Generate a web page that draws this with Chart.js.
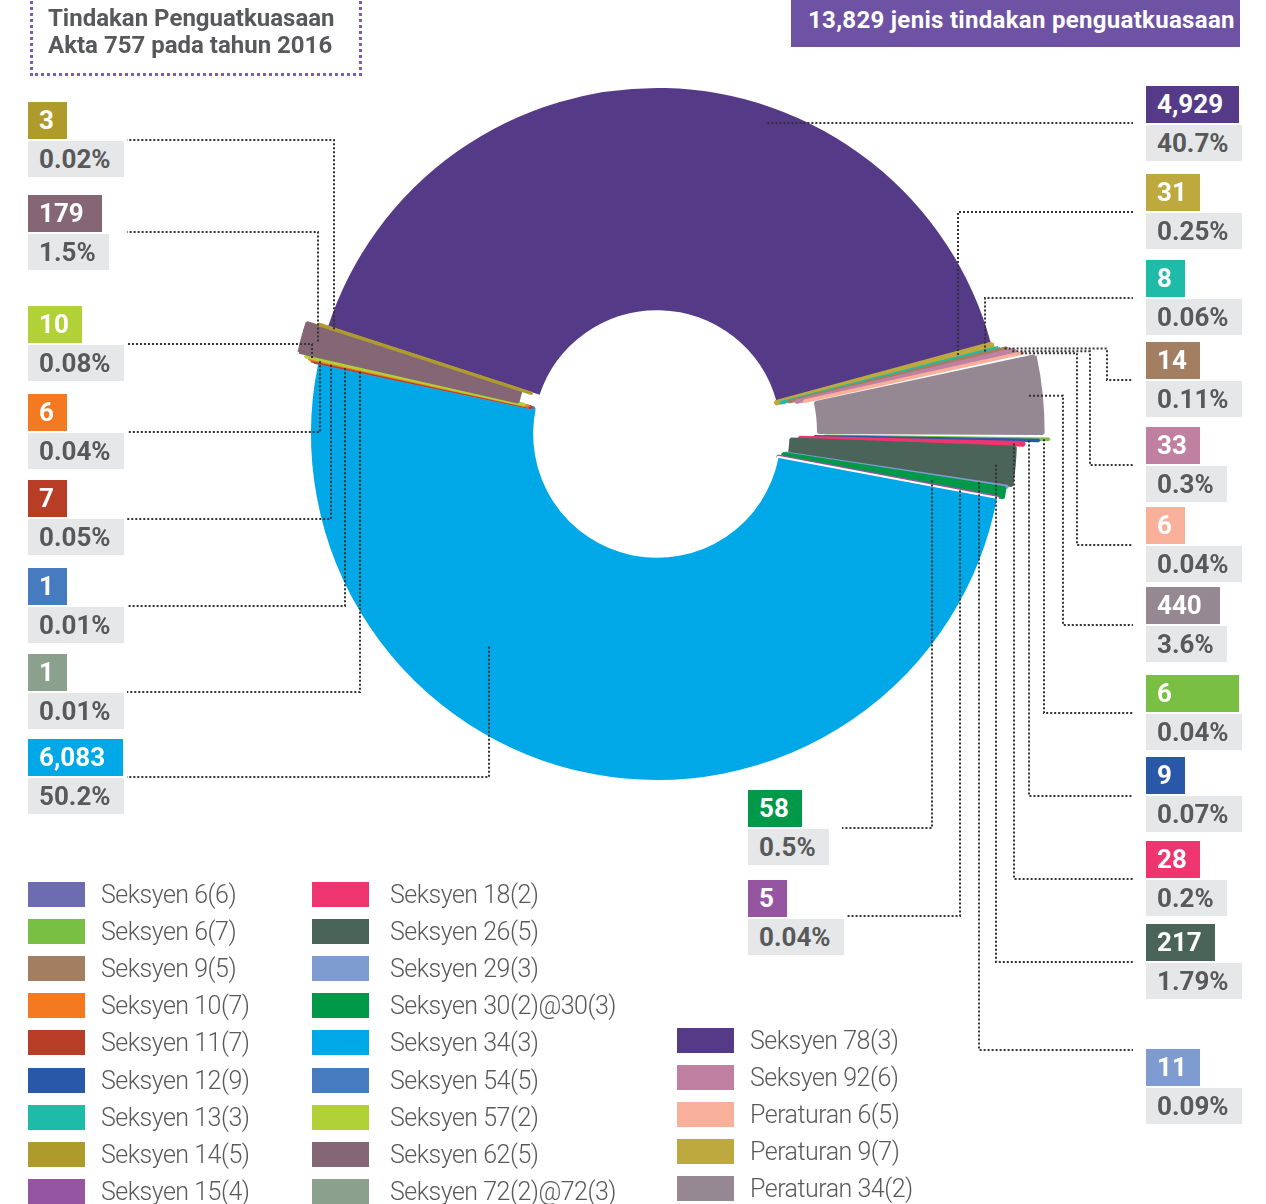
<!DOCTYPE html>
<html>
<head>
<meta charset="utf-8">
<title>Tindakan Penguatkuasaan Akta 757 pada tahun 2016</title>
<script src="https://cdn.jsdelivr.net/npm/chart.js@4.4.1/dist/chart.umd.min.js"></script>
<style>
  html, body { margin: 0; padding: 0; background: #fff; }
  body { position: relative; width: 1266px; height: 1204px; overflow: hidden; font-family: Roboto, "Open Sans", sans-serif; }
  #chartBox { position: absolute; left: 0; top: 0; width: 1266px; height: 1204px; }
  .title-box { position: absolute; left: 30px; top: -12px; width: 332px; height: 88px; border: 3px dotted #7a5cb2; box-sizing: border-box; }
  .title-text { position: absolute; left: 48px; top: 5px; font-weight: 700; font-size: 24px; line-height: 27px; color: #58595b; }
  .total { position: absolute; left: 791px; top: 0; width: 449px; height: 47px; background: #6e52a3; color: #fff;
           font-weight: 700; font-size: 24px; line-height: 40px; padding-left: 17px; box-sizing: border-box; letter-spacing: 0.3px; white-space: nowrap; }
  .callout { position: absolute; display: flex; flex-direction: column; align-items: flex-start; gap: 2px; }
  .callout div { height: 37px; line-height: 37px; font-size: 26px; font-weight: 700; padding: 0 13px 0 11px; box-sizing: border-box; white-space: nowrap; }
  .callout .val { color: #fff; }
  .callout .pct { background: #e6e7e8; color: #58595b; height: 36px; }
  .legend-item { position: absolute; display: flex; align-items: center; height: 25px; white-space: nowrap; }
  .legend-item .sw { width: 57px; height: 25px; flex: none; }
  .legend-item span { font-size: 25px; font-weight: 300; color: #58595b; letter-spacing: -0.5px; }
</style>
</head>
<body>
<div id="chartBox"><canvas id="pie"></canvas></div>
<div class="title-box"></div>
<div class="title-text">Tindakan Penguatkuasaan<br>Akta 757 pada tahun 2016</div>
<div class="total">13,829 jenis tindakan penguatkuasaan</div>
<script>
// slices in drawing order, clockwise from the upper left
const categories = ['Seksyen 78(3)', 'Peraturan 9(7)', 'Seksyen 13(3)', 'Seksyen 9(5)', 'Seksyen 92(6)', 'Peraturan 6(5)',
  'Peraturan 34(2)', 'Seksyen 6(7)', 'Seksyen 12(9)', 'Seksyen 18(2)', 'Seksyen 26(5)', 'Seksyen 29(3)',
  'Seksyen 30(2)@30(3)', 'Seksyen 15(4)', 'Seksyen 34(3)', 'Seksyen 72(2)@72(3)', 'Seksyen 54(5)', 'Seksyen 11(7)',
  'Seksyen 10(7)', 'Seksyen 57(2)', 'Seksyen 62(5)', 'Seksyen 14(5)', 'Seksyen 6(6)'];
const counts = [4929, 31, 8, 14, 33, 6, 440, 6, 9, 28, 217, 11, 58, 5, 6083, 1, 1, 7, 6, 10, 179, 3, 0];
const shares = ['40.7%', '0.25%', '0.06%', '0.11%', '0.3%', '0.04%', '3.6%', '0.04%', '0.07%', '0.2%', '1.79%', '0.09%',
  '0.5%', '0.04%', '50.2%', '0.01%', '0.01%', '0.05%', '0.04%', '0.08%', '1.5%', '0.02%', ''];
const sliceColors = ['#553a87', '#bda93e', '#1ebba8', '#a37e61', '#bf80a2', '#f9b09b', '#958893', '#79bf43', '#2a58a8',
  '#ee3570', '#4a6459', '#7e9cd0', '#009849', '#9655a1', '#00a8e7', '#8ba18e', '#467cbf', '#b83d27', '#f37a21',
  '#b1d136', '#856675', '#af9b2c', '#6e6cb1'];

const legendColumns = [
  ['Seksyen 6(6)', 'Seksyen 6(7)', 'Seksyen 9(5)', 'Seksyen 10(7)', 'Seksyen 11(7)', 'Seksyen 12(9)', 'Seksyen 13(3)', 'Seksyen 14(5)', 'Seksyen 15(4)'],
  ['Seksyen 18(2)', 'Seksyen 26(5)', 'Seksyen 29(3)', 'Seksyen 30(2)@30(3)', 'Seksyen 34(3)', 'Seksyen 54(5)', 'Seksyen 57(2)', 'Seksyen 62(5)', 'Seksyen 72(2)@72(3)'],
  ['Seksyen 78(3)', 'Seksyen 92(6)', 'Peraturan 6(5)', 'Peraturan 9(7)', 'Peraturan 34(2)']
];

// how far each small slice is pushed out of the ring
const sliceOffsets = [0, 0, 10, 26, 40, 56, 88, 90, 70, 40, 24, 14, 10, 0, 0, 6, 6, 12, 18, 26, 42, 18, 0];

// label boxes and the dotted leader that joins them to their slice
const callouts = [
  { slice: 21, x: 28,   top: 102,  lineY: 140,  endX: 127,  elbow: 334, route: 'v' },
  { slice: 20, x: 28,   top: 195,  lineY: 232,  endX: 127,  elbow: 318, route: 'v', minWidth: 74 },
  { slice: 19, x: 28,   top: 306,  lineY: 344,  endX: 127,  elbow: 312, route: 'v' },
  { slice: 18, x: 28,   top: 394,  lineY: 432,  endX: 127,  elbow: 320, route: 'v' },
  { slice: 17, x: 28,   top: 480,  lineY: 519,  endX: 127,  elbow: 331, route: 'v' },
  { slice: 16, x: 28,   top: 568,  lineY: 606,  endX: 127,  elbow: 345, route: 'v' },
  { slice: 15, x: 28,   top: 654,  lineY: 692,  endX: 127,  elbow: 360, route: 'v' },
  { slice: 14, x: 28,   top: 739,  lineY: 777,  endX: 127,  elbow: 489, route: 'v', reach: 271, minWidth: 95 },
  { slice: 0,  x: 1146, top: 86,   lineY: 123,  endX: 1133, elbow: null, route: 'h', reach: 330, minWidth: 93 },
  { slice: 1,  x: 1146, top: 174,  lineY: 212,  endX: 1133, elbow: 958, route: 'v' },
  { slice: 2,  x: 1146, top: 260,  lineY: 298,  endX: 1133, elbow: 985, route: 'v' },
  { slice: 3,  x: 1146, top: 342,  lineY: 380,  endX: 1133, elbow: 1107, route: 'h' },
  { slice: 4,  x: 1146, top: 427,  lineY: 465,  endX: 1133, elbow: 1090, route: 'h' },
  { slice: 5,  x: 1146, top: 507,  lineY: 545,  endX: 1133, elbow: 1077, route: 'h' },
  { slice: 6,  x: 1146, top: 587,  lineY: 625,  endX: 1133, elbow: 1063, route: 'h', inset: 12, minWidth: 74 },
  { slice: 7,  x: 1146, top: 675,  lineY: 713,  endX: 1133, elbow: 1044, route: 'v', minWidth: 93 },
  { slice: 8,  x: 1146, top: 757,  lineY: 796,  endX: 1133, elbow: 1029, route: 'v' },
  { slice: 9,  x: 1146, top: 841,  lineY: 879,  endX: 1133, elbow: 1014, route: 'v' },
  { slice: 10, x: 1146, top: 924,  lineY: 962,  endX: 1133, elbow: 996, route: 'v' },
  { slice: 11, x: 1146, top: 1049, lineY: 1050, endX: 1133, elbow: 979, route: 'v' },
  { slice: 12, x: 748,  top: 790,  lineY: 828,  endX: 842,  elbow: 932, route: 'v' },
  { slice: 13, x: 748,  top: 880,  lineY: 916,  endX: 846,  elbow: 960, route: 'v' }
];

const legendLayout = [
  { x: 28, top: 882, gap: 16 },
  { x: 312, top: 882, gap: 21 },
  { x: 677, top: 1028, gap: 16 }
];

// where the dotted line meets the slice
function leaderPath(el, c) {
  const p = el.getProps(['x', 'y', 'startAngle', 'endAngle', 'innerRadius', 'outerRadius', 'circumference'], true);
  const shift = (el.options.offset || 0) / 4;
  const fix = 1 - Math.sin(Math.min(Math.PI, p.circumference));
  const mid = (p.startAngle + p.endAngle) / 2;
  const cx = p.x + Math.cos(mid) * shift;
  const cy = p.y + Math.sin(mid) * shift;
  const r0 = p.innerRadius + shift * fix;
  const r1 = p.outerRadius + shift * fix;
  let a;
  if (c.reach) {
    if (c.route === 'v') {
      const dx = c.elbow - p.x;
      a = [c.elbow, p.y + Math.sign(Math.sin(mid)) * Math.sqrt(c.reach * c.reach - dx * dx)];
    } else {
      const dy = c.lineY - p.y;
      a = [p.x + Math.sign(c.endX - p.x) * Math.sqrt(c.reach * c.reach - dy * dy), c.lineY];
    }
  } else if (c.route === 'v') {
    let r = (c.elbow - cx) / Math.cos(mid);
    r = Math.min(Math.max(r, r0 + 4), r1 - 2);
    a = [cx + Math.cos(mid) * r, cy + Math.sin(mid) * r];
  } else {
    const r = r1 - (c.inset || 2);
    a = [cx + Math.cos(mid) * r, cy + Math.sin(mid) * r];
  }
  const pts = [a];
  if (c.elbow != null) pts.push([c.elbow, a[1]], [c.elbow, c.lineY]);
  pts.push([c.endX, c.lineY]);
  return pts;
}

const leaderLines = {
  id: 'leaderLines',
  afterDatasetsDraw(chart) {
    const ctx = chart.ctx;
    const arcs = chart.getDatasetMeta(0).data;
    ctx.save();
    ctx.strokeStyle = '#333335';
    ctx.lineWidth = 2;
    ctx.setLineDash([2, 2]);
    callouts.forEach(c => {
      const pts = leaderPath(arcs[c.slice], c);
      ctx.beginPath();
      pts.forEach((pt, i) => i ? ctx.lineTo(pt[0], pt[1]) : ctx.moveTo(pt[0], pt[1]));
      ctx.stroke();
    });
    ctx.restore();
  }
};

new Chart(document.getElementById('pie'), {
  type: 'doughnut',
  data: {
    labels: categories,
    datasets: [{
      data: counts,
      backgroundColor: sliceColors,
      // big slices get a white rim, tiny ones a rim in their own colour so they stay visible
      borderColor: ctx => counts[ctx.dataIndex] > 1000 ? '#ffffff' : sliceColors[ctx.dataIndex],
      borderWidth: ctx => counts[ctx.dataIndex] > 1000 ? 2 : 3.5,
      borderJoinStyle: 'bevel',
      offset: sliceOffsets,
      hoverOffset: 0
    }]
  },
  options: {
    responsive: true,
    maintainAspectRatio: false,
    animation: false,
    events: [],
    rotation: -72,
    radius: 347,
    cutout: '35.4%',
    layout: { padding: { left: 48, bottom: 336 } },
    plugins: { legend: { display: false }, tooltip: { enabled: false } }
  },
  plugins: [leaderLines]
});

// value / share boxes
callouts.forEach(c => {
  const box = document.createElement('div');
  box.className = 'callout';
  box.style.left = c.x + 'px';
  box.style.top = c.top + 'px';
  const val = document.createElement('div');
  val.className = 'val';
  val.style.background = sliceColors[c.slice];
  val.textContent = counts[c.slice].toLocaleString('en-US');
  if (c.minWidth) val.style.minWidth = c.minWidth + 'px';
  const pct = document.createElement('div');
  pct.className = 'pct';
  pct.textContent = shares[c.slice];
  box.append(val, pct);
  document.body.appendChild(box);
});

// legend
legendColumns.forEach((col, ci) => {
  const lay = legendLayout[ci];
  col.forEach((name, ri) => {
    const item = document.createElement('div');
    item.className = 'legend-item';
    item.style.left = lay.x + 'px';
    item.style.top = (lay.top + ri * 37.1) + 'px';
    const sw = document.createElement('div');
    sw.className = 'sw';
    sw.style.background = sliceColors[categories.indexOf(name)];
    sw.style.marginRight = lay.gap + 'px';
    const txt = document.createElement('span');
    txt.textContent = name;
    item.append(sw, txt);
    document.body.appendChild(item);
  });
});
</script>
</body>
</html>
